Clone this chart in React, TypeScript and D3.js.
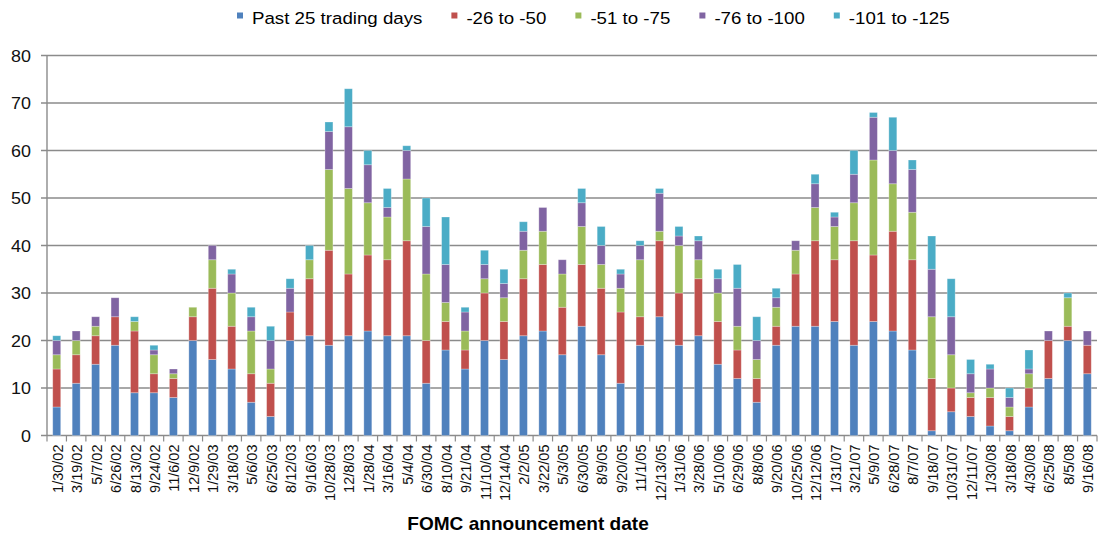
import { useEffect, useRef } from "react";
import * as d3 from "d3";

const dates = [
  "1/30/02", "3/19/02", "5/7/02", "6/26/02", "8/13/02", "9/24/02", "11/6/02", "12/9/02",
  "1/29/03", "3/18/03", "5/6/03", "6/25/03", "8/12/03", "9/16/03", "10/28/03", "12/8/03",
  "1/28/04", "3/16/04", "5/4/04", "6/30/04", "8/10/04", "9/21/04", "11/10/04", "12/14/04",
  "2/2/05", "3/22/05", "5/3/05", "6/30/05", "8/9/05", "9/20/05", "11/1/05", "12/13/05",
  "1/31/06", "3/28/06", "5/10/06", "6/29/06", "8/8/06", "9/20/06", "10/25/06", "12/12/06",
  "1/31/07", "3/21/07", "5/9/07", "6/28/07", "8/7/07", "9/18/07", "10/31/07", "12/11/07",
  "1/30/08", "3/18/08", "4/30/08", "6/25/08", "8/5/08", "9/16/08",
];

const past25 = [6, 11, 15, 19, 9, 9, 8, 20, 16, 14, 7, 4, 20, 21, 19, 21, 22, 21, 21, 11, 18, 14, 20, 16, 21, 22, 17, 23, 17, 11, 19, 25, 19, 21, 15, 12, 7, 19, 23, 23, 24, 19, 24, 22, 18, 1, 5, 4, 2, 1, 6, 12, 20, 13];
const d26to50 = [8, 6, 6, 6, 13, 4, 4, 5, 15, 9, 6, 7, 6, 12, 20, 13, 16, 16, 20, 9, 6, 4, 10, 8, 12, 14, 10, 13, 14, 15, 6, 16, 11, 12, 9, 6, 5, 4, 11, 18, 13, 22, 14, 21, 19, 11, 5, 4, 6, 3, 4, 8, 3, 6];
const d51to75 = [3, 3, 2, 0, 2, 4, 1, 2, 6, 7, 9, 3, 0, 4, 17, 18, 11, 9, 13, 14, 4, 4, 3, 5, 6, 7, 7, 8, 5, 5, 12, 2, 10, 4, 6, 5, 4, 4, 5, 7, 7, 8, 20, 10, 10, 13, 7, 1, 2, 2, 3, 0, 6, 0];
const d76to100 = [3, 2, 2, 4, 0, 1, 1, 0, 3, 4, 3, 6, 5, 0, 8, 13, 8, 2, 6, 10, 8, 4, 3, 3, 4, 5, 3, 5, 4, 3, 3, 8, 2, 4, 3, 8, 4, 2, 2, 5, 2, 6, 9, 7, 9, 10, 8, 4, 4, 2, 1, 2, 0, 3];
const d101to125 = [1, 0, 0, 0, 1, 1, 0, 0, 0, 1, 2, 3, 2, 3, 2, 8, 3, 4, 1, 6, 10, 1, 3, 3, 2, 0, 0, 3, 4, 1, 1, 1, 2, 1, 2, 5, 5, 2, 0, 2, 1, 5, 1, 7, 2, 7, 8, 3, 1, 2, 4, 0, 1, 0];

const seriesNames = ["Past 25 trading days", "-26 to -50", "-51 to -75", "-76 to -100", "-101 to -125"];
const seriesColors = ["#4F81BD", "#C0504D", "#9BBB59", "#8064A2", "#4BACC6"];
const yTicks = [0, 10, 20, 30, 40, 50, 60, 70, 80];

const FONT = "'Liberation Sans', Arial, sans-serif";

export default function App() {
  const svgRef = useRef<SVGSVGElement>(null);

  useEffect(() => {
    if (!svgRef.current) return;
    const width = 1099;
    const height = 537;
    const margin = { top: 55.5, right: 2, bottom: 101.5, left: 47 };

    const svg = d3.select(svgRef.current);
    svg.selectAll("*").remove();
    svg.attr("width", width).attr("height", height).attr("viewBox", `0 0 ${width} ${height}`);

    const allSeries = [past25, d26to50, d51to75, d76to100, d101to125];
    const rows = dates.map((d, i) => {
      const r: any = { date: d };
      seriesNames.forEach((k, j) => (r[k] = allSeries[j][i]));
      return r;
    });
    const stacked = d3.stack<any>().keys(seriesNames)(rows);

    const x = d3
      .scaleBand()
      .domain(dates)
      .range([margin.left, width - margin.right])
      .paddingInner(0.59)
      .paddingOuter(0.295);
    const y = d3.scaleLinear().domain([0, 80]).range([height - margin.bottom, margin.top]);

    const grid = "#8b8b8b";

    // gridlines + y ticks
    svg
      .append("g")
      .selectAll("line")
      .data(yTicks)
      .enter()
      .append("line")
      .attr("x1", margin.left - 6)
      .attr("x2", width - margin.right)
      .attr("y1", (d) => y(d))
      .attr("y2", (d) => y(d))
      .attr("stroke", grid)
      .attr("stroke-width", 1.4);

    svg
      .append("g")
      .selectAll("text")
      .data(yTicks)
      .enter()
      .append("text")
      .attr("transform", (d) => `translate(31,${y(d) + 6}) scale(1.12,1)`)
      .attr("text-anchor", "end")
      .attr("font-family", FONT)
      .attr("font-size", 16)
      .attr("fill", "#111")
      .text((d) => d);

    // y axis line
    svg
      .append("line")
      .attr("x1", margin.left)
      .attr("x2", margin.left)
      .attr("y1", y(80))
      .attr("y2", y(0))
      .attr("stroke", grid)
      .attr("stroke-width", 1.4);

    // bars
    svg
      .append("g")
      .selectAll("g")
      .data(stacked)
      .enter()
      .append("g")
      .attr("fill", (_, i) => seriesColors[i])
      .selectAll("rect")
      .data((s) => s.filter((p) => p[1] - p[0] > 0))
      .enter()
      .append("rect")
      .attr("x", (p: any) => x(p.data.date) || 0)
      .attr("width", x.bandwidth())
      .attr("y", (p) => y(p[1]))
      .attr("height", (p) => y(p[0]) - y(p[1]))
      .attr("stroke", "#ffffff")
      .attr("stroke-opacity", 0.35)
      .attr("stroke-width", 0.8);

    // x ticks at category boundaries
    const step = x.step();
    svg
      .append("g")
      .selectAll("line")
      .data(d3.range(dates.length + 1))
      .enter()
      .append("line")
      .attr("x1", (i) => margin.left + i * step)
      .attr("x2", (i) => margin.left + i * step)
      .attr("y1", y(0))
      .attr("y2", y(0) + 6)
      .attr("stroke", grid)
      .attr("stroke-width", 1.2);

    // x labels
    svg
      .append("g")
      .selectAll("text")
      .data(dates)
      .enter()
      .append("text")
      .attr("transform", (d) => `translate(${(x(d) || 0) + x.bandwidth() / 2 + 1},${y(0) + 9}) rotate(-90)`)
      .attr("text-anchor", "end")
      .attr("dy", "0.35em")
      .attr("font-family", FONT)
      .attr("font-size", 14.5)
      .attr("fill", "#111")
      .text((d) => d);

    // axis title
    svg
      .append("text")
      .attr("transform", `translate(528,530) scale(1.06,1)`)
      .attr("text-anchor", "middle")
      .attr("font-family", FONT)
      .attr("font-size", 18)
      .attr("font-weight", "bold")
      .attr("fill", "#000")
      .text("FOMC announcement date");

    // legend
    const legend = svg.append("g");
    let lx = 237;
    seriesNames.forEach((name, i) => {
      legend
        .append("rect")
        .attr("x", lx)
        .attr("y", 12.5)
        .attr("width", 6)
        .attr("height", 6)
        .attr("fill", seriesColors[i]);
      const t = legend
        .append("text")
        .attr("transform", `translate(${lx + 15},23.5) scale(1.1,1)`)
        .attr("font-family", FONT)
        .attr("font-size", 17)
        .attr("fill", "#000")
        .text(name);
      const w = (t.node() as SVGTextElement).getComputedTextLength() * 1.1;
      lx += 15 + w + 29;
    });
  }, []);

  return (
    <div style={{ position: "absolute", left: 0, top: 0, width: 1099, height: 537, background: "#fff" }}>
      <svg ref={svgRef} style={{ display: "block" }} />
    </div>
  );
}
